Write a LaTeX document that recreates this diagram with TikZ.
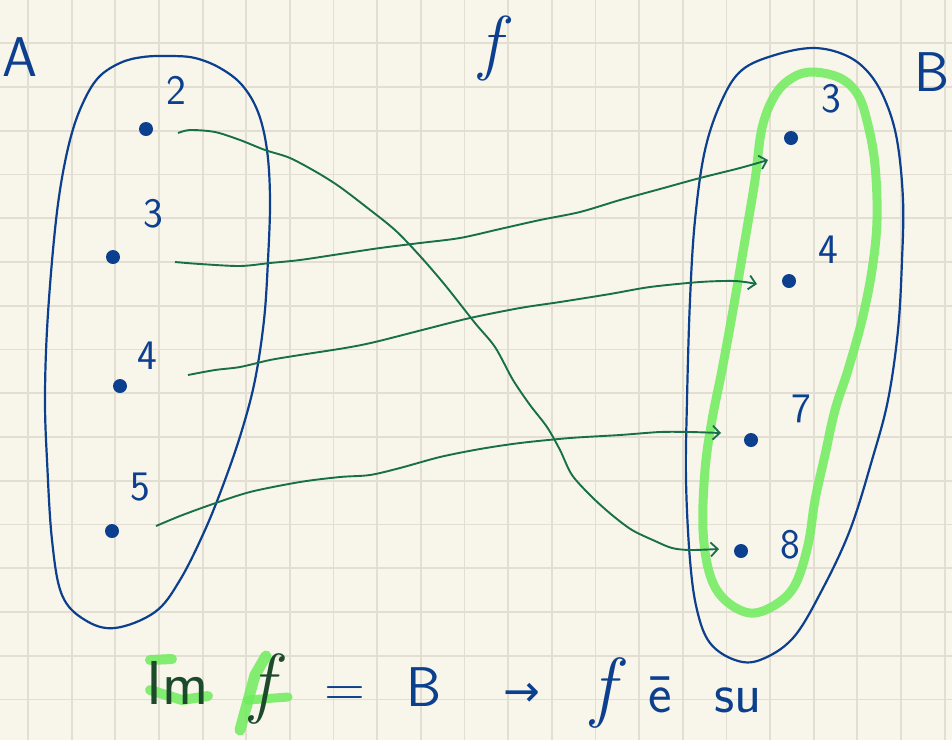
\documentclass[tikz,border=0pt]{standalone}
\usepackage{fontspec}
\newfontfamily\symfont{DejaVu Sans}
\usetikzlibrary{arrows.meta}
\definecolor{paper}{HTML}{F8F5EA}
\definecolor{gridc}{HTML}{E2DFD2}
\definecolor{ink}{HTML}{0C3F8E}
\definecolor{arr}{HTML}{17704A}
\definecolor{hl}{HTML}{6FEC5C}
\definecolor{imc}{HTML}{1E4A2C}
\begin{document}
\begin{tikzpicture}[x=1pt,y=-1pt,
  gridline/.style={gridc, line width=1.8pt},
  dot/.style={circle, fill=ink, inner sep=0pt, minimum size=14pt},
  lab/.style={text=ink, font=\sffamily\fontsize{42}{48}\selectfont, inner sep=0pt},
  setlab/.style={text=ink, font=\sffamily\fontsize{56}{62}\selectfont, inner sep=0pt},
  blob/.style={ink, line width=2.2pt},
  hilite/.style={hl, line width=9pt, opacity=0.85, line join=round},
  conn/.style={arr, line width=1.9pt, -{Straight Barb[length=7pt,width=14pt,line width=1.8pt]}},
  eqtext/.style={text=ink, font=\sffamily\fontsize{56}{60}\selectfont, inner sep=0pt}
]
\fill[paper] (0,0) rectangle (952,740);
\useasboundingbox (0,0) rectangle (952,740);
\foreach \i in {0,...,21} \draw[gridline] ({28+43.65*\i},0) -- ({28+43.65*\i},740);
\foreach \j in {1,...,16} \draw[gridline] (0,{-0.5+43.75*\j}) -- (952,{-0.5+43.75*\j});

% set outlines
\draw[blob] plot[smooth cycle, tension=0.6] coordinates {(143,57) (170,56) (195,58) (220,68) (242,85) (258,112) (267,150) (270,200) (268,260) (264,320) (255,380) (242,430) (225,480) (205,530) (180,580) (155,612) (115,628) (85,620) (62,595) (52,540) (47,460) (45,400) (47,330) (53,250) (60,190) (70,140) (82,105) (98,78) (120,63)};
\draw[blob] plot[smooth cycle, tension=0.6] coordinates {(813,48) (845,55) (868,72) (885,100) (897,140) (903,200) (902,260) (898,330) (888,400) (872,460) (850,530) (822,590) (793,638) (760,660) (735,660) (710,643) (697,610) (690,560) (686,480) (687,400) (690,300) (695,220) (705,150) (722,100) (742,70) (775,55)};
\draw[hilite] plot[smooth cycle, tension=0.6] coordinates {(812,72) (840,78) (858,95) (868,125) (875,165) (877,220) (872,270) (862,320) (848,370) (835,410) (825,455) (815,500) (808,545) (795,585) (775,605) (750,613) (725,600) (710,575) (703,530) (705,470) (712,420) (722,370) (733,310) (745,240) (755,180) (762,128) (775,95) (792,78)};

% set labels
\node[setlab] (A) at (20,57) {A};
\node[setlab] (B) at (932,72) {B};
\node[text=ink, font=\fontsize{72}{78}\selectfont\itshape, inner sep=0pt] (f) at (490,48) {f};

% elements
\node[dot] (a2) at (146,129) {};
\node[dot] (a3) at (113,257) {};
\node[dot] (a4) at (120,386) {};
\node[dot] (a5) at (112,531) {};
\node[dot] (b3) at (791,138) {};
\node[dot] (b4) at (789,281) {};
\node[dot] (b7) at (751,440) {};
\node[dot] (b8) at (741,551) {};

\node[lab] (la2) at (176,90) {2};
\node[lab] (la3) at (153,214) {3};
\node[lab] (la4) at (147,356) {4};
\node[lab] (la5) at (140,487) {5};
\node[lab] (lb3) at (831,99) {3};
\node[lab] (lb4) at (828,250) {4};
\node[lab] (lb7) at (801,409) {7};
\node[lab] (lb8) at (790,545) {8};

% connectors
\coordinate (s2) at (178,133);
\coordinate (s3) at (175,262);
\coordinate (s4) at (188,375);
\coordinate (s5) at (156,526);
\coordinate (t8) at (719,549);
\coordinate (t3) at (768,160);
\coordinate (t4) at (757,284);
\coordinate (t7) at (721,433);
\draw[conn] plot[smooth, tension=0.5] coordinates {(s2) (190,130) (215,132) (240,140) (265,150) (290,158) (318,173) (340,187) (365,206) (395,230) (420,256) (445,285) (475,323) (495,347) (513,380) (530,405) (547,427) (560,450) (572,475) (592,497) (612,515) (632,530) (655,541) (672,548) (690,550) (t8)};
\draw[conn] plot[smooth, tension=0.5] coordinates {(s3) (200,264) (240,266) (270,263) (300,260) (340,254) (380,248) (420,243) (460,238) (500,229) (540,220) (580,212) (620,200) (660,189) (700,178) (740,168) (t3)};
\draw[conn] plot[smooth, tension=0.5] coordinates {(s4) (215,370) (240,367) (270,360) (300,355) (345,348) (375,342) (430,328) (470,318) (520,308) (560,302) (610,294) (650,287) (700,282) (735,281) (t4)};
\draw[conn] plot[smooth, tension=0.5] coordinates {(s5) (180,516) (210,505) (250,492) (300,482) (340,477) (370,475) (400,468) (440,457) (480,449) (520,443) (570,438) (620,435) (660,432) (690,432) (t7)};

% bottom formula
\draw[hilite, line width=10pt, line cap=round] (150,660) -- (172,659);
\draw[hilite, line width=10pt, line cap=round] (150,690) -- (182,700) -- (208,696);
\draw[hilite, line width=11pt, line cap=round] (240,730) -- (255,675) -- (266,656);
\draw[hilite, line width=9pt, line cap=round] (248,700) -- (288,697);
\node[text=imc, font=\sffamily\fontsize{62}{66}\selectfont, inner sep=0pt, anchor=base] (im) at (178,704) {Im};
\node[text=imc, font=\fontsize{78}{84}\selectfont\itshape, inner sep=0pt, anchor=base] (imf) at (262,708) {f};
\node[eqtext, anchor=base] (eq) at (345,706) {=};
\node[eqtext, anchor=base] (bb) at (424,706) {B};
\node[text=ink, font=\symfont\fontsize{44}{50}\selectfont, inner sep=0pt, anchor=base] (ar) at (522,706) {→};
\node[text=ink, font=\fontsize{78}{84}\selectfont\itshape, inner sep=0pt, anchor=base] (ff) at (603,712) {f};
\node[eqtext, anchor=base] (ee) at (660,712) {\=e};
\node[eqtext, anchor=base] (su) at (738,712) {su};
\end{tikzpicture}
\end{document}
